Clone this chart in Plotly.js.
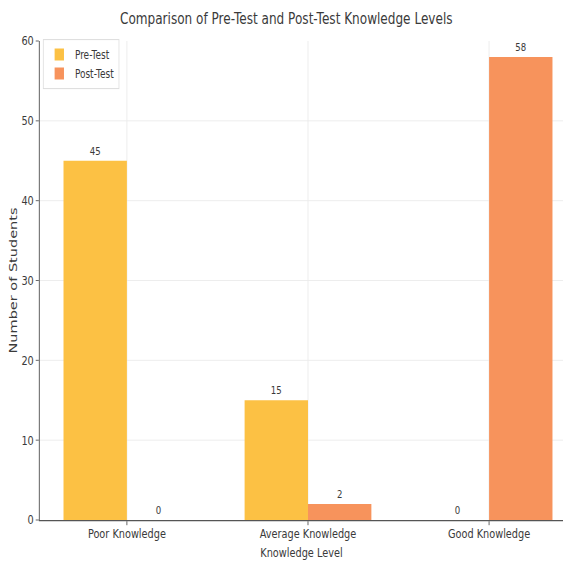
<!DOCTYPE html>
<html>
<head>
<meta charset="utf-8">
<script src="https://cdn.plot.ly/plotly-3.0.1.min.js"></script>
<style>
  html, body { margin: 0; padding: 0; background: #fff; overflow: hidden; }
  /* The figure is laid out on a wider canvas and then narrowed horizontally */
  #chart { width: 722px; height: 563px; transform: scaleX(0.78); transform-origin: 0 0; }
</style>
</head>
<body>
<div id="chart"></div>
<script>
// Knowledge levels before and after the intervention
const categories = ["Poor Knowledge", "Average Knowledge", "Good Knowledge"];
const preTest = [45, 15, 0];
const postTest = [0, 2, 58];
const yTicks = [0, 10, 20, 30, 40, 50, 60];

const FONT = "DejaVu Sans, sans-serif";
const PRE_COLOR = "#FCC144";
const POST_COLOR = "#F7935C";
const TEXT = "#3a3a3a";

const traces = [
  {
    type: "bar", name: "Pre-Test", x: categories, y: preTest,
    marker: { color: PRE_COLOR },
    text: preTest.map(String), textposition: "outside", cliponaxis: false,
    textfont: { family: FONT, size: 11, color: TEXT }
  },
  {
    type: "bar", name: "Post-Test", x: categories, y: postTest,
    marker: { color: POST_COLOR },
    text: postTest.map(String), textposition: "outside", cliponaxis: false,
    textfont: { family: FONT, size: 11, color: TEXT }
  }
];

const layout = {
  width: 722, height: 563,
  margin: { l: 51, r: 0, t: 41, b: 43 },
  paper_bgcolor: "#fff", plot_bgcolor: "#fff",
  barmode: "group", bargap: 0.3, bargroupgap: 0,
  font: { family: FONT, size: 12, color: TEXT },
  title: {
    text: "Comparison of Pre-Test and Post-Test Knowledge Levels",
    font: { family: FONT, size: 15.5, color: TEXT },
    x: 367 / 722, xanchor: "center", y: 0.967, yanchor: "middle"
  },
  xaxis: {
    type: "category", range: [-0.481, 2.409],
    showline: true, linecolor: "#555", linewidth: 1.2,
    showgrid: true, gridcolor: "#ebebeb", gridwidth: 1,
    ticks: "outside", ticklen: 4, tickcolor: "#555",
    ticklabelstandoff: -2,
    tickfont: { family: FONT, size: 12.5, color: TEXT },
    title: { text: "Knowledge Level", font: { family: FONT, size: 12.5, color: TEXT }, standoff: 8 }
  },
  yaxis: {
    range: [0, 60], tickvals: yTicks, ticktext: yTicks.map(String),
    showline: true, linecolor: "#555", linewidth: 1.2, zeroline: false,
    showgrid: true, gridcolor: "#ebebeb", gridwidth: 1,
    ticks: "outside", ticklen: 4, tickcolor: "#555",
    ticklabelstandoff: -2.5,
    tickfont: { family: FONT, size: 12.5, color: TEXT },
    title: { text: "Number of Students", font: { family: FONT, size: 14.5, color: TEXT }, standoff: 1 }
  },
  legend: {
    x: 0.006, y: 1.004, xanchor: "left", yanchor: "top",
    bgcolor: "rgba(255,255,255,0.85)", bordercolor: "#dddddd", borderwidth: 1,
    font: { family: FONT, size: 11.5, color: TEXT },
    itemwidth: 30, tracegroupgap: 2
  },
  showlegend: true
};

Plotly.newPlot("chart", traces, layout, { displayModeBar: false, staticPlot: true });
</script>
</body>
</html>
